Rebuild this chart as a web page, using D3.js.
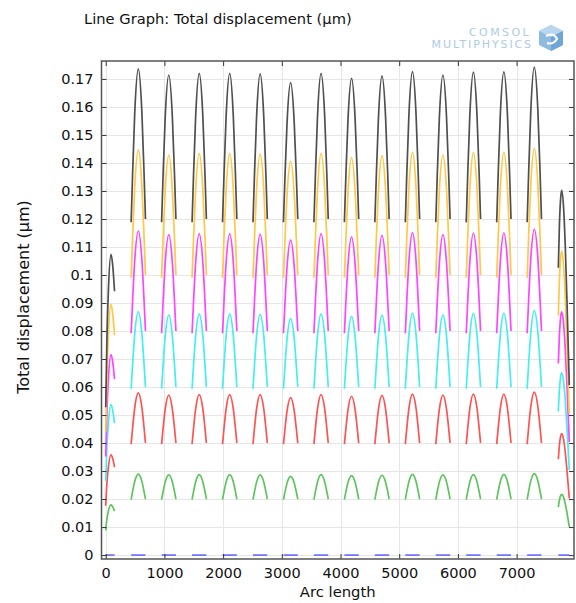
<!DOCTYPE html>
<html>
<head>
<meta charset="utf-8">
<script src="https://cdn.jsdelivr.net/npm/d3@7"></script>
<style>
  html, body { margin: 0; padding: 0; background: #fff; }
  svg { display: block; font-family: "DejaVu Sans", sans-serif; }
</style>
</head>
<body>
<div id="chart"></div>
<script>
// Line graph: total displacement along arc length, one colour per load level

const xTicks = [0, 1000, 2000, 3000, 4000, 5000, 6000, 7000];
const yTicks = [0, 0.01, 0.02, 0.03, 0.04, 0.05, 0.06, 0.07, 0.08, 0.09,
  0.1, 0.11, 0.12, 0.13, 0.14, 0.15, 0.16, 0.17];

// blue, green, red, cyan, magenta, yellow, black
const seriesColors = ["#6f6fff", "#5ec45e", "#ff5252", "#45eef0", "#ff45ff", "#ffc845", "#4f4f4f"];

// peak positions of the 14 full arches (arc length)
const archPeakX = [555, 1074, 1593, 2112, 2631, 3150, 3669, 4188, 4707, 5226, 5745, 6264, 6783, 7302];
const archHalfWidth = 122;
// arch outline: offset (in half widths) and relative rise
const archShapeU = [-1, -0.8, -0.5, 0, 0.5, 0.8, 1];
const archShapeH = [0, 0.31, 0.71, 1, 0.71, 0.31, 0];

const archBaseLeft = [0, 0.0198, 0.0396, 0.0594, 0.0792, 0.099, 0.1188];
const archBaseRight = [0, 0.02, 0.04, 0.06, 0.08, 0.1, 0.12];

const archPeaks = [
  [0, 0, 0, 0, 0, 0, 0, 0, 0, 0, 0, 0, 0, 0],
  [0.0289, 0.0286, 0.0287, 0.0287, 0.0286, 0.0281, 0.0287, 0.0284, 0.0285, 0.0288, 0.0286, 0.0287, 0.0288, 0.0291],
  [0.0579, 0.0571, 0.0573, 0.0573, 0.0573, 0.0562, 0.0573, 0.0567, 0.057, 0.0575, 0.0571, 0.0575, 0.0575, 0.0582],
  [0.0868, 0.0857, 0.086, 0.086, 0.0859, 0.0844, 0.086, 0.0851, 0.0856, 0.0863, 0.0857, 0.0862, 0.0863, 0.0873],
  [0.1157, 0.1143, 0.1147, 0.1147, 0.1145, 0.1125, 0.1147, 0.1135, 0.1141, 0.1151, 0.1143, 0.1149, 0.115, 0.1163],
  [0.1447, 0.1428, 0.1433, 0.1433, 0.1432, 0.1406, 0.1433, 0.1418, 0.1426, 0.1438, 0.1428, 0.1437, 0.1438, 0.1452],
  [0.1736, 0.1714, 0.172, 0.172, 0.1718, 0.1687, 0.172, 0.1702, 0.1711, 0.1726, 0.1714, 0.1724, 0.1725, 0.1742]
];

// partial segment at the start of the line
const leftEdgeX = [0, 20, 45, 90, 120, 150];
const leftEdgeValues = [
  [0, 0, 0, 0, 0, 0],
  [0.0088, 0.0128, 0.0157, 0.0179, 0.0172, 0.0157],
  [0.0176, 0.0256, 0.0314, 0.0358, 0.0344, 0.0314],
  [0.0264, 0.0384, 0.0471, 0.0537, 0.0516, 0.0471],
  [0.0352, 0.0512, 0.0628, 0.0716, 0.0688, 0.0628],
  [0.044, 0.064, 0.0785, 0.0895, 0.086, 0.0785],
  [0.0528, 0.0768, 0.0942, 0.1074, 0.1032, 0.0942]
];

// partial segment at the end of the line
const rightEdgeX = [7711, 7730, 7750, 7768, 7800, 7830, 7860, 7898];
const rightEdgeValues = [
  [0, 0, 0, 0, 0, 0, 0, 0],
  [0.0171, 0.0197, 0.0212, 0.0217, 0.0207, 0.0183, 0.0149, 0.0101],
  [0.0342, 0.0394, 0.0424, 0.0434, 0.0414, 0.0366, 0.0298, 0.0202],
  [0.0513, 0.0591, 0.0636, 0.0651, 0.0621, 0.0549, 0.0447, 0.0303],
  [0.0684, 0.0788, 0.0848, 0.0868, 0.0828, 0.0732, 0.0596, 0.0404],
  [0.0855, 0.0985, 0.106, 0.1085, 0.1035, 0.0915, 0.0745, 0.0505],
  [0.1026, 0.1182, 0.1272, 0.1302, 0.1242, 0.1098, 0.0894, 0.0606]
];

(function () {
  const W = 576, H = 603;
  const plot = { left: 101.5, right: 574, top: 61, bottom: 559 };

  const svg = d3.select("#chart").append("svg")
    .attr("width", W)
    .attr("height", H);

  const x = d3.scaleLinear().domain([-72, 7978]).range([plot.left, plot.right]);
  const y = d3.scaleLinear().domain([-0.0014, 0.1764]).range([plot.bottom, plot.top]);

  // title
  svg.append("text")
    .attr("x", 84)
    .attr("y", 23.5)
    .attr("font-size", 14.7)
    .attr("fill", "#111")
    .text("Line Graph: Total displacement (\u00b5m)");

  // logo
  const logo = svg.append("g").attr("fill", "#aecbe4");
  logo.append("text")
    .attr("x", 531).attr("y", 36)
    .attr("text-anchor", "end")
    .attr("font-size", 11)
    .attr("letter-spacing", 2.4)
    .text("COMSOL");
  logo.append("text")
    .attr("x", 533).attr("y", 48)
    .attr("text-anchor", "end")
    .attr("font-size", 11)
    .attr("letter-spacing", 1.9)
    .text("MULTIPHYSICS");
  const cube = svg.append("g").attr("transform", "translate(551,38)");
  cube.append("path").attr("d", "M0,-13 L12,-7 L12,7 L0,13 L-12,7 L-12,-7 Z").attr("fill", "#8fbbe0");
  cube.append("path").attr("d", "M0,-13 L12,-7 L0,-1 L-12,-7 Z").attr("fill", "#b9d6ee");
  cube.append("path").attr("d", "M0,-1 L12,-7 L12,7 L0,13 Z").attr("fill", "#6fa6d6");
  cube.append("path").attr("d", "M-5,-2 Q3,-6 6,1 Q2,7 -4,5").attr("fill", "none")
    .attr("stroke", "#ffffff").attr("stroke-width", 2.2);

  // grid
  const grid = svg.append("g").attr("stroke", "#e6e6e6").attr("stroke-width", 1);
  grid.selectAll("line.gy").data(yTicks).enter().append("line")
    .attr("x1", plot.left).attr("x2", plot.right)
    .attr("y1", d => Math.round(y(d)) + 0.5).attr("y2", d => Math.round(y(d)) + 0.5);
  grid.selectAll("line.gx").data(xTicks).enter().append("line")
    .attr("y1", plot.top).attr("y2", plot.bottom)
    .attr("x1", d => Math.round(x(d)) + 0.5).attr("x2", d => Math.round(x(d)) + 0.5);

  // build segments for each series
  const line = d3.line()
    .x(d => x(d[0]))
    .y(d => y(d[1]))
    .curve(d3.curveMonotoneX);

  const lines = svg.append("g").attr("fill", "none").attr("stroke-width", 1.7)
    .attr("stroke-linejoin", "round");

  seriesColors.forEach((color, s) => {
    const segments = [];
    segments.push(leftEdgeX.map((xv, i) => [xv, leftEdgeValues[s][i]]));
    archPeakX.forEach((px, a) => {
      const peak = archPeaks[s][a];
      segments.push(archShapeU.map((u, i) => {
        const base = u < 0 ? archBaseLeft[s] : archBaseRight[s];
        return [px + u * archHalfWidth, base + (peak - base) * archShapeH[i]];
      }));
    });
    segments.push(rightEdgeX.map((xv, i) => [xv, rightEdgeValues[s][i]]));

    lines.selectAll(null).data(segments).enter().append("path")
      .attr("stroke", color)
      .attr("d", line);
  });

  // axes (ticks pointing inward)
  const fmt = d => String(+d.toFixed(2));
  svg.append("g")
    .attr("transform", `translate(${plot.left},0)`)
    .call(d3.axisLeft(y).tickValues(yTicks).tickFormat(fmt).tickSize(-5).tickPadding(8))
    .call(g => g.select(".domain").remove())
    .call(g => g.selectAll("text").attr("font-size", 14.5).attr("fill", "#111").attr("font-family", "DejaVu Sans"));
  svg.append("g")
    .attr("transform", `translate(${plot.right},0)`)
    .call(d3.axisRight(y).tickValues(yTicks).tickFormat("").tickSize(-5))
    .call(g => g.select(".domain").remove());
  svg.append("g")
    .attr("transform", `translate(0,${plot.bottom})`)
    .call(d3.axisBottom(x).tickValues(xTicks).tickFormat(d3.format("d")).tickSize(-5).tickPadding(9))
    .call(g => g.select(".domain").remove())
    .call(g => g.selectAll("text").attr("font-size", 14.5).attr("fill", "#111").attr("font-family", "DejaVu Sans"));
  svg.append("g")
    .attr("transform", `translate(0,${plot.top})`)
    .call(d3.axisTop(x).tickValues(xTicks).tickFormat("").tickSize(-5))
    .call(g => g.select(".domain").remove());
  svg.selectAll(".tick line").attr("stroke", "#333");

  // frame
  svg.append("rect")
    .attr("x", plot.left).attr("y", plot.top)
    .attr("width", plot.right - plot.left)
    .attr("height", plot.bottom - plot.top)
    .attr("fill", "none")
    .attr("stroke", "#555")
    .attr("stroke-width", 1.5);

  // axis titles
  svg.append("text")
    .attr("x", (plot.left + plot.right) / 2)
    .attr("y", 597)
    .attr("text-anchor", "middle")
    .attr("font-size", 14.8)
    .attr("fill", "#111")
    .text("Arc length");

  svg.append("text")
    .attr("transform", "translate(29,297) rotate(-90)")
    .attr("text-anchor", "middle")
    .attr("font-size", 16)
    .attr("fill", "#111")
    .text("Total displacement (\u00b5m)");
})();
</script>
</body>
</html>
